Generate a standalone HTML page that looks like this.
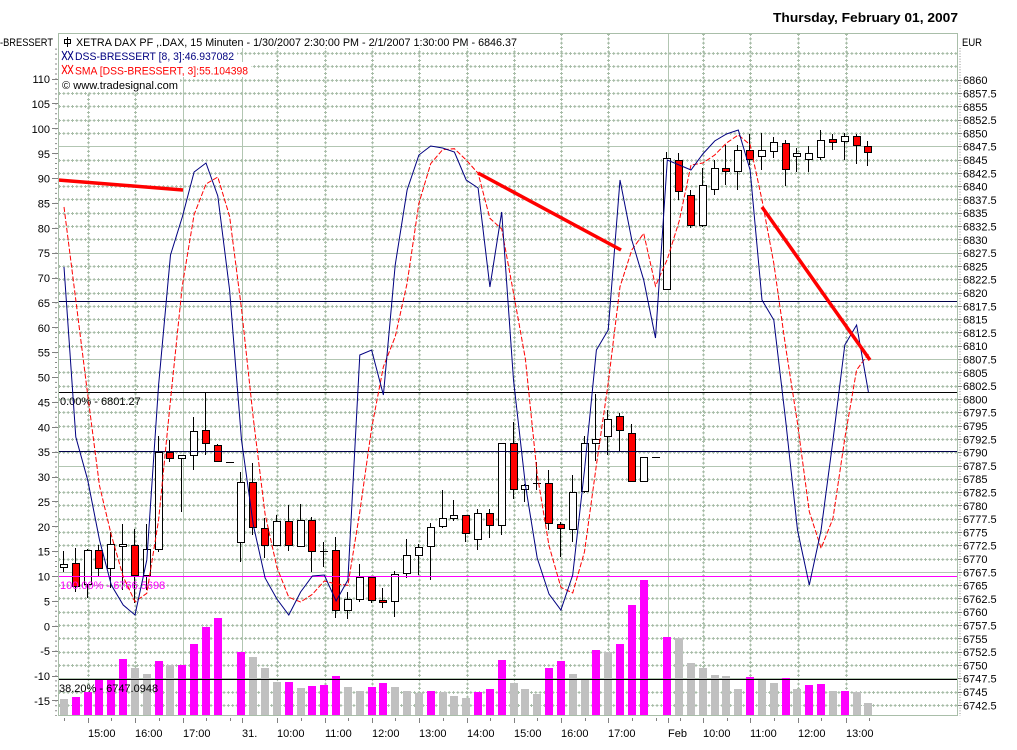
<!DOCTYPE html>
<html><head><meta charset="utf-8"><style>
html,body{margin:0;padding:0;background:#fff;}
svg{display:block;}
.h1{stroke:#a8bda8;stroke-width:1;stroke-dasharray:3 1.33;fill:none}
.h2{stroke:#a8bda8;stroke-width:3;stroke-dasharray:1 3.33;stroke-dashoffset:-1;fill:none}
.gs{stroke:#b2c6b2;stroke-width:1;fill:none}
.wk{stroke:#000;stroke-width:1;fill:none}
.rb{fill:#ff0000;stroke:#000;stroke-width:1}
.wb{fill:#fff;stroke:#000;stroke-width:1}
.vm{fill:#ff00ff}
.vg{fill:#c0c0c0}
text{font-family:"Liberation Sans",Arial,sans-serif;font-size:11px;fill:#000}
</style></head><body>
<svg width="1017" height="750" viewBox="0 0 1017 750" xmlns="http://www.w3.org/2000/svg">
<rect x="0" y="0" width="1017" height="750" fill="#fff"/>

<!-- horizontal dotted grid -->
<path class="h1" d="M58 53.5H958M58 66.5H958M58 80.5H958M58 93.5H958M58 106.5H958M58 120.5H958M58 133.5H958M58 160.5H958M58 173.5H958M58 186.5H958M58 199.5H958M58 213.5H958M58 226.5H958M58 239.5H958M58 266.5H958M58 279.5H958M58 293.5H958M58 306.5H958M58 319.5H958M58 332.5H958M58 346.5H958M58 372.5H958M58 386.5H958M58 399.5H958M58 412.5H958M58 426.5H958M58 439.5H958M58 452.5H958M58 479.5H958M58 492.5H958M58 505.5H958M58 519.5H958M58 532.5H958M58 545.5H958M58 559.5H958M58 585.5H958M58 598.5H958M58 612.5H958M58 625.5H958M58 638.5H958M58 652.5H958M58 665.5H958M58 692.5H958M58 705.5H958"/>
<path class="h2" d="M58 53.5H958M58 66.5H958M58 80.5H958M58 93.5H958M58 106.5H958M58 120.5H958M58 133.5H958M58 160.5H958M58 173.5H958M58 186.5H958M58 199.5H958M58 213.5H958M58 226.5H958M58 239.5H958M58 266.5H958M58 279.5H958M58 293.5H958M58 306.5H958M58 319.5H958M58 332.5H958M58 346.5H958M58 372.5H958M58 386.5H958M58 399.5H958M58 412.5H958M58 426.5H958M58 439.5H958M58 452.5H958M58 479.5H958M58 492.5H958M58 505.5H958M58 519.5H958M58 532.5H958M58 545.5H958M58 559.5H958M58 585.5H958M58 598.5H958M58 612.5H958M58 625.5H958M58 638.5H958M58 652.5H958M58 665.5H958M58 692.5H958M58 705.5H958"/>
<!-- vertical dotted grid -->
<path class="h1" d="M88.5 33V716M135.5 33V716M277.5 33V716M325.5 33V716M372.5 33V716M419.5 33V716M467.5 33V716M514.5 33V716M561.5 33V716M608.5 33V716M703.5 33V716M750.5 33V716M798.5 33V716M846.5 33V716"/>
<path class="h2" d="M88.5 33V716M135.5 33V716M277.5 33V716M325.5 33V716M372.5 33V716M419.5 33V716M467.5 33V716M514.5 33V716M561.5 33V716M608.5 33V716M703.5 33V716M750.5 33V716M798.5 33V716M846.5 33V716"/>
<!-- solid grid -->
<path class="gs" d="M58 146.5H958M58 253.5H958M58 359.5H958M58 466.5H958M58 572.5H958M58 678.5H958M183.5 33V716M242.5 33V716M668.5 33V716"/>

<!-- volume bars -->
<g>
<rect class="vg" x="60" y="699" width="8" height="17"/>
<rect class="vm" x="72" y="697" width="8" height="19"/>
<rect class="vm" x="84" y="692" width="8" height="24"/>
<rect class="vm" x="95" y="679" width="8" height="37"/>
<rect class="vm" x="107" y="679" width="8" height="37"/>
<rect class="vm" x="119" y="659" width="8" height="57"/>
<rect class="vg" x="131" y="668" width="8" height="48"/>
<rect class="vg" x="143" y="674" width="8" height="42"/>
<rect class="vm" x="155" y="661" width="8" height="55"/>
<rect class="vg" x="166" y="665" width="8" height="51"/>
<rect class="vm" x="178" y="665" width="8" height="51"/>
<rect class="vm" x="190" y="644" width="8" height="72"/>
<rect class="vm" x="202" y="627" width="8" height="89"/>
<rect class="vm" x="214" y="618" width="8" height="98"/>
<rect class="vm" x="237" y="652" width="8" height="64"/>
<rect class="vg" x="249" y="657" width="8" height="59"/>
<rect class="vg" x="261" y="668" width="8" height="48"/>
<rect class="vg" x="273" y="682" width="8" height="34"/>
<rect class="vm" x="285" y="682" width="8" height="34"/>
<rect class="vg" x="297" y="688" width="8" height="28"/>
<rect class="vm" x="308" y="686" width="8" height="30"/>
<rect class="vm" x="320" y="685" width="8" height="31"/>
<rect class="vm" x="332" y="676" width="8" height="40"/>
<rect class="vg" x="344" y="687" width="8" height="29"/>
<rect class="vg" x="356" y="691" width="8" height="25"/>
<rect class="vm" x="368" y="687" width="8" height="29"/>
<rect class="vm" x="379" y="683" width="8" height="33"/>
<rect class="vg" x="391" y="687" width="8" height="29"/>
<rect class="vg" x="403" y="691" width="8" height="25"/>
<rect class="vg" x="415" y="693" width="8" height="23"/>
<rect class="vm" x="427" y="691" width="8" height="25"/>
<rect class="vg" x="439" y="692" width="8" height="24"/>
<rect class="vg" x="450" y="696" width="8" height="20"/>
<rect class="vg" x="462" y="698" width="8" height="18"/>
<rect class="vm" x="474" y="692" width="8" height="24"/>
<rect class="vm" x="486" y="689" width="8" height="27"/>
<rect class="vm" x="498" y="660" width="8" height="56"/>
<rect class="vg" x="510" y="683" width="8" height="33"/>
<rect class="vg" x="521" y="689" width="8" height="27"/>
<rect class="vg" x="533" y="694" width="8" height="22"/>
<rect class="vm" x="545" y="668" width="8" height="48"/>
<rect class="vm" x="557" y="661" width="8" height="55"/>
<rect class="vg" x="569" y="674" width="8" height="42"/>
<rect class="vg" x="581" y="679" width="8" height="37"/>
<rect class="vm" x="592" y="650" width="8" height="66"/>
<rect class="vg" x="604" y="652" width="8" height="64"/>
<rect class="vm" x="616" y="644" width="8" height="72"/>
<rect class="vm" x="628" y="605" width="8" height="111"/>
<rect class="vm" x="640" y="580" width="8" height="136"/>
<rect class="vm" x="663" y="637" width="8" height="79"/>
<rect class="vg" x="675" y="638" width="8" height="78"/>
<rect class="vg" x="687" y="663" width="8" height="53"/>
<rect class="vg" x="699" y="668" width="8" height="48"/>
<rect class="vg" x="711" y="675" width="8" height="41"/>
<rect class="vg" x="722" y="676" width="8" height="40"/>
<rect class="vg" x="734" y="689" width="8" height="27"/>
<rect class="vm" x="746" y="677" width="8" height="39"/>
<rect class="vg" x="758" y="679" width="8" height="37"/>
<rect class="vg" x="770" y="683" width="8" height="33"/>
<rect class="vm" x="782" y="678" width="8" height="38"/>
<rect class="vg" x="793" y="689" width="8" height="27"/>
<rect class="vm" x="805" y="685" width="8" height="31"/>
<rect class="vm" x="817" y="684" width="8" height="32"/>
<rect class="vg" x="829" y="691" width="8" height="25"/>
<rect class="vm" x="841" y="691" width="8" height="25"/>
<rect class="vg" x="853" y="692" width="8" height="24"/>
<rect class="vg" x="864" y="703" width="8" height="13"/>
</g>

<!-- candle wicks -->
<path class="wk" d="M63.5 551V572M75.5 548V592M87.5 549V598M98.5 545V577M110.5 532V588M122.5 524V590M134.5 529V603M146.5 524V590M158.5 436V552M169.5 440V462M181.5 455V512M193.5 417V470M205.5 392V455M217.5 444V462M240.5 472V562M252.5 463V535M264.5 518V558M276.5 515V546M288.5 505V551M300.5 504V547M311.5 517V572M323.5 542V567M335.5 537V618M347.5 592V619M359.5 564V602M371.5 577V603M382.5 588V608M394.5 571V617M406.5 539V578M418.5 544V575M430.5 523V580M442.5 490V528M453.5 500V521M465.5 515V542M477.5 509V550M489.5 509V538M501.5 443V535M513.5 422V499M524.5 484V502M536.5 462V490M548.5 470V530M560.5 522V557M572.5 475V542M584.5 436V493M595.5 394V461M607.5 410V455M619.5 413V451M631.5 424V482M643.5 457V482M666.5 152V290M678.5 153V200M690.5 190V228M702.5 168V227M714.5 160V195M725.5 145V185M737.5 145V190M749.5 134V165M761.5 133V170M773.5 137V158M785.5 140V186M796.5 148V172M808.5 146V172M820.5 130V160M832.5 134V150M844.5 133V160M856.5 134V164M867.5 141V166M226 462.5H234M320 551.5H328M533 483.5H541M652 457.5H660"/>
<!-- red bodies -->
<g>
<rect class="rb" x="72.5" y="563.5" width="7" height="23"/>
<rect class="rb" x="95.5" y="550.5" width="7" height="18"/>
<rect class="rb" x="131.5" y="545.5" width="7" height="30"/>
<rect class="rb" x="166.5" y="452.5" width="7" height="6"/>
<rect class="rb" x="202.5" y="430.5" width="7" height="13"/>
<rect class="rb" x="214.5" y="445.5" width="7" height="16"/>
<rect class="rb" x="249.5" y="482.5" width="7" height="45"/>
<rect class="rb" x="261.5" y="528.5" width="7" height="17"/>
<rect class="rb" x="285.5" y="521.5" width="7" height="24"/>
<rect class="rb" x="308.5" y="520.5" width="7" height="31"/>
<rect class="rb" x="332.5" y="550.5" width="7" height="60"/>
<rect class="rb" x="368.5" y="577.5" width="7" height="23"/>
<rect class="rb" x="379.5" y="600.5" width="7" height="2"/>
<rect class="rb" x="462.5" y="515.5" width="7" height="18"/>
<rect class="rb" x="486.5" y="513.5" width="7" height="12"/>
<rect class="rb" x="510.5" y="443.5" width="7" height="46"/>
<rect class="rb" x="545.5" y="483.5" width="7" height="40"/>
<rect class="rb" x="557.5" y="524.5" width="7" height="4"/>
<rect class="rb" x="616.5" y="416.5" width="7" height="14"/>
<rect class="rb" x="628.5" y="433.5" width="7" height="48"/>
<rect class="rb" x="675.5" y="160.5" width="7" height="31"/>
<rect class="rb" x="687.5" y="195.5" width="7" height="30"/>
<rect class="rb" x="722.5" y="168.5" width="7" height="3"/>
<rect class="rb" x="746.5" y="150.5" width="7" height="9"/>
<rect class="rb" x="782.5" y="143.5" width="7" height="26"/>
<rect class="rb" x="829.5" y="139.5" width="7" height="3"/>
<rect class="rb" x="853.5" y="136.5" width="7" height="9"/>
<rect class="rb" x="864.5" y="146.5" width="7" height="6"/>
</g>
<!-- white bodies -->
<g>
<rect class="wb" x="60.5" y="564.5" width="7" height="3"/>
<rect class="wb" x="84.5" y="550.5" width="7" height="34"/>
<rect class="wb" x="107.5" y="544.5" width="7" height="24"/>
<rect class="wb" x="119.5" y="544.5" width="7" height="2"/>
<rect class="wb" x="143.5" y="549.5" width="7" height="26"/>
<rect class="wb" x="155.5" y="452.5" width="7" height="97"/>
<rect class="wb" x="178.5" y="455.5" width="7" height="3"/>
<rect class="wb" x="190.5" y="431.5" width="7" height="24"/>
<rect class="wb" x="237.5" y="482.5" width="7" height="60"/>
<rect class="wb" x="273.5" y="521.5" width="7" height="24"/>
<rect class="wb" x="297.5" y="520.5" width="7" height="26"/>
<rect class="wb" x="344.5" y="599.5" width="7" height="11"/>
<rect class="wb" x="356.5" y="577.5" width="7" height="22"/>
<rect class="wb" x="391.5" y="574.5" width="7" height="27"/>
<rect class="wb" x="403.5" y="555.5" width="7" height="18"/>
<rect class="wb" x="415.5" y="547.5" width="7" height="8"/>
<rect class="wb" x="427.5" y="527.5" width="7" height="19"/>
<rect class="wb" x="439.5" y="518.5" width="7" height="8"/>
<rect class="wb" x="450.5" y="515.5" width="7" height="3"/>
<rect class="wb" x="474.5" y="513.5" width="7" height="26"/>
<rect class="wb" x="498.5" y="443.5" width="7" height="82"/>
<rect class="wb" x="521.5" y="485.5" width="7" height="4"/>
<rect class="wb" x="569.5" y="492.5" width="7" height="37"/>
<rect class="wb" x="581.5" y="443.5" width="7" height="48"/>
<rect class="wb" x="592.5" y="439.5" width="7" height="4"/>
<rect class="wb" x="604.5" y="419.5" width="7" height="17"/>
<rect class="wb" x="640.5" y="457.5" width="7" height="24"/>
<rect class="wb" x="663.5" y="158.5" width="7" height="131"/>
<rect class="wb" x="699.5" y="185.5" width="7" height="40"/>
<rect class="wb" x="711.5" y="168.5" width="7" height="21"/>
<rect class="wb" x="734.5" y="150.5" width="7" height="21"/>
<rect class="wb" x="758.5" y="150.5" width="7" height="6"/>
<rect class="wb" x="770.5" y="142.5" width="7" height="9"/>
<rect class="wb" x="793.5" y="153.5" width="7" height="3"/>
<rect class="wb" x="805.5" y="153.5" width="7" height="6"/>
<rect class="wb" x="817.5" y="140.5" width="7" height="17"/>
<rect class="wb" x="841.5" y="136.5" width="7" height="5"/>
</g>

<!-- level lines -->
<path d="M58 301.5H958" stroke="#00004a" stroke-width="1"/>
<path d="M58 392.5H958" stroke="#000" stroke-width="1"/>
<path d="M58 451.5H958" stroke="#00004a" stroke-width="1"/>
<path d="M58 576.5H958" stroke="#ff00ff" stroke-width="1"/>
<path d="M58 679.5H958" stroke="#000" stroke-width="1"/>

<!-- level labels -->
<text x="60" y="405">0.00% - 6801.27</text>
<text x="60" y="589" style="fill:#ff00ff">100.00% - 6766.5698</text>
<text x="59" y="692">38.20% - 6747.0948</text>

<!-- SMA red dashed -->
<polyline fill="none" stroke="#ff0000" stroke-width="1" stroke-dasharray="5 2" points="64,207 75.8,300 87.7,394.7 99.5,485.7 111.3,535 123.2,576.7 135,601.7 146.8,593.3 158.6,520 170.5,400 182.3,285.7 194.1,214.7 206,184 217.8,177 229.6,216.3 241.5,308.7 253.3,418.3 265.1,514.3 276.9,567.3 288.8,597.3 300.6,602 312.4,594.3 324.3,581 336.1,584 347.9,585.3 359.8,512 371.6,428.3 383.4,366.7 395.2,336.7 407.1,283.3 418.9,203.3 430.7,163.7 442.6,149.7 454.4,148.7 466.2,160 478.1,173.3 489.9,218.3 501.7,229 513.5,293 525.4,359 537.2,474.3 549,545.7 560.9,587.3 572.7,593 584.5,551.7 596.4,465 608.2,383.3 620,286.7 631.8,250 643.7,233.3 655.5,286 667.3,259.3 679.2,221 691,165 702.8,163 714.7,155 726.5,143 738.3,135 750.1,144.7 762,200 773.8,263.3 785.6,346.7 797.5,423.3 809.3,511.7 821.1,548.3 833,518.3 844.8,438.3 856.6,370 868.4,354"/>
<!-- DSS blue -->
<polyline fill="none" stroke="#000080" stroke-width="1" points="64,267 75.8,437 87.7,480 99.5,540 111.3,585 123.2,605 135,615 146.8,560 158.6,385 170.5,255 182.3,217 194.1,172 206,163 217.8,196 229.6,290 241.5,440 253.3,525 265.1,578 276.9,599 288.8,615 300.6,592 312.4,576 324.3,575 336.1,601 347.9,580 359.8,355 371.6,350 383.4,395 395.2,265 407.1,190 418.9,155 430.7,146 442.6,148 454.4,152 466.2,180 478.1,188 489.9,287 501.7,212 513.5,380 525.4,485 537.2,558 549,594 560.9,610 572.7,575 584.5,470 596.4,350 608.2,330 620,180 631.8,240 643.7,280 655.5,338 667.3,160 679.2,165 691,170 702.8,154 714.7,141 726.5,134 738.3,130 750.1,170 762,300 773.8,320 785.6,420 797.5,530 809.3,585 821.1,530 833,440 844.8,345 856.6,325 868.4,392"/>

<!-- trendlines -->
<line x1="58" y1="180" x2="183" y2="190" stroke="#ff0000" stroke-width="3.5"/>
<line x1="478" y1="173" x2="621" y2="250" stroke="#ff0000" stroke-width="3.5"/>
<line x1="762" y1="207" x2="870" y2="360" stroke="#ff0000" stroke-width="3.5"/>

<!-- legend backgrounds -->
<rect x="59" y="34" width="461" height="14" fill="#fff"/>
<rect x="59" y="48" width="178" height="14" fill="#fff"/>
<rect x="59" y="62" width="192" height="15" fill="#fff"/>
<rect x="59" y="77" width="121" height="15" fill="#fff"/>

<!-- frame -->
<rect x="58.5" y="33.5" width="899" height="682" fill="none" stroke="#a9bea9" stroke-width="1"/>

<!-- legend -->
<rect x="64.5" y="39.5" width="6" height="4" fill="none" stroke="#000"/>
<path d="M67.5 37V47" stroke="#000"/>
<text x="76" y="46" textLength="441" lengthAdjust="spacingAndGlyphs">XETRA DAX PF ,.DAX, 15 Minuten - 1/30/2007 2:30:00 PM - 2/1/2007 1:30:00 PM - 6846.37</text>
<path d="M62 51L67 60M67 51L62 60M68 51L73 60M73 51L68 60" stroke="#000080" fill="none"/>
<text x="75" y="60" textLength="159" lengthAdjust="spacingAndGlyphs" style="fill:#000080">DSS-BRESSERT [8, 3]:46.937082</text>
<path d="M62 65L67 74M67 65L62 74M68 65L73 74M73 65L68 74" stroke="#ff0000" fill="none"/>
<text x="75" y="74.5" textLength="173" lengthAdjust="spacingAndGlyphs" style="fill:#ff0000">SMA [DSS-BRESSERT, 3]:55.104398</text>
<text x="62" y="89" textLength="116" lengthAdjust="spacingAndGlyphs">© www.tradesignal.com</text>

<!-- header -->
<text x="773" y="22" textLength="185" lengthAdjust="spacingAndGlyphs" style="font-weight:bold;font-size:13px">Thursday, February 01, 2007</text>
<text x="0" y="46" textLength="53" lengthAdjust="spacingAndGlyphs">-BRESSERT</text>
<text x="962" y="46" textLength="20" lengthAdjust="spacingAndGlyphs">EUR</text>

<!-- left axis ticks -->
<path d="M56 48.6V716" stroke="#8a8a8a" stroke-width="2" stroke-dasharray="1 3.975" fill="none"/>
<path stroke="#808080" stroke-width="1" d="M52 79.5H58M52 103.5H58M52 128.5H58M52 153.5H58M52 178.5H58M52 203.5H58M52 228.5H58M52 253.5H58M52 278.5H58M52 302.5H58M52 327.5H58M52 352.5H58M52 377.5H58M52 402.5H58M52 427.5H58M52 452.5H58M52 477.5H58M52 501.5H58M52 526.5H58M52 551.5H58M52 576.5H58M52 601.5H58M52 626.5H58M52 651.5H58M52 676.5H58M52 700.5H58"/>
<g text-anchor="end">
<text x="50" y="83">110</text>
<text x="50" y="108">105</text>
<text x="50" y="133">100</text>
<text x="50" y="158">95</text>
<text x="50" y="182.5">90</text>
<text x="50" y="207.5">85</text>
<text x="50" y="232.5">80</text>
<text x="50" y="257">75</text>
<text x="50" y="282">70</text>
<text x="50" y="307">65</text>
<text x="50" y="332">60</text>
<text x="50" y="356.5">55</text>
<text x="50" y="381.5">50</text>
<text x="50" y="406.5">45</text>
<text x="50" y="431.5">40</text>
<text x="50" y="456">35</text>
<text x="50" y="481">30</text>
<text x="50" y="506">25</text>
<text x="50" y="531">20</text>
<text x="50" y="555.5">15</text>
<text x="50" y="580.5">10</text>
<text x="50" y="605.5">5</text>
<text x="50" y="630.5">0</text>
<text x="50" y="655">-5</text>
<text x="50" y="680">-10</text>
<text x="50" y="705">-15</text>
</g>

<!-- right axis -->
<path d="M960 48V716" stroke="#909090" stroke-width="1" stroke-dasharray="1 1.66" fill="none"/>
<path stroke="#808080" stroke-width="1" d="M958 80.5H962M958 93.5H962M958 106.5H962M958 120.5H962M958 133.5H962M958 146.5H962M958 160.5H962M958 173.5H962M958 186.5H962M958 199.5H962M958 213.5H962M958 226.5H962M958 239.5H962M958 253.5H962M958 266.5H962M958 279.5H962M958 293.5H962M958 306.5H962M958 319.5H962M958 332.5H962M958 346.5H962M958 359.5H962M958 372.5H962M958 386.5H962M958 399.5H962M958 412.5H962M958 426.5H962M958 439.5H962M958 452.5H962M958 466.5H962M958 479.5H962M958 492.5H962M958 505.5H962M958 519.5H962M958 532.5H962M958 545.5H962M958 559.5H962M958 572.5H962M958 585.5H962M958 598.5H962M958 612.5H962M958 625.5H962M958 638.5H962M958 652.5H962M958 665.5H962M958 678.5H962M958 692.5H962M958 705.5H962"/>
<g>
<text x="963" y="84.2">6860</text>
<text x="963" y="97.5">6857.5</text>
<text x="963" y="110.8">6855</text>
<text x="963" y="124.1">6852.5</text>
<text x="963" y="137.4">6850</text>
<text x="963" y="150.7">6847.5</text>
<text x="963" y="164">6845</text>
<text x="963" y="177.3">6842.5</text>
<text x="963" y="190.6">6840</text>
<text x="963" y="203.9">6837.5</text>
<text x="963" y="217.2">6835</text>
<text x="963" y="230.5">6832.5</text>
<text x="963" y="243.8">6830</text>
<text x="963" y="257.1">6827.5</text>
<text x="963" y="270.4">6825</text>
<text x="963" y="283.7">6822.5</text>
<text x="963" y="297">6820</text>
<text x="963" y="310.3">6817.5</text>
<text x="963" y="323.6">6815</text>
<text x="963" y="336.9">6812.5</text>
<text x="963" y="350.2">6810</text>
<text x="963" y="363.5">6807.5</text>
<text x="963" y="376.8">6805</text>
<text x="963" y="390.1">6802.5</text>
<text x="963" y="403.4">6800</text>
<text x="963" y="416.7">6797.5</text>
<text x="963" y="430">6795</text>
<text x="963" y="443.3">6792.5</text>
<text x="963" y="456.6">6790</text>
<text x="963" y="469.9">6787.5</text>
<text x="963" y="483.2">6785</text>
<text x="963" y="496.5">6782.5</text>
<text x="963" y="509.8">6780</text>
<text x="963" y="523.1">6777.5</text>
<text x="963" y="536.4">6775</text>
<text x="963" y="549.7">6772.5</text>
<text x="963" y="563">6770</text>
<text x="963" y="576.3">6767.5</text>
<text x="963" y="589.6">6765</text>
<text x="963" y="602.9">6762.5</text>
<text x="963" y="616.2">6760</text>
<text x="963" y="629.5">6757.5</text>
<text x="963" y="642.8">6755</text>
<text x="963" y="656.1">6752.5</text>
<text x="963" y="669.4">6750</text>
<text x="963" y="682.7">6747.5</text>
<text x="963" y="696">6745</text>
<text x="963" y="709.3">6742.5</text>
</g>

<!-- bottom axis ticks -->
<path stroke="#808080" stroke-width="1" d="M88.5 718V723M135.5 718V723M183.5 718V723M242.5 718V723M277.5 718V723M325.5 718V723M372.5 718V723M419.5 718V723M467.5 718V723M514.5 718V723M561.5 718V723M608.5 718V723M668.5 718V723M703.5 718V723M750.5 718V723M798.5 718V723M846.5 718V723M64.5 718V721M111.5 718V721M159.5 718V721M206.5 718V721M230.5 718V721M301.5 718V721M348.5 718V721M395.5 718V721M443.5 718V721M490.5 718V721M537.5 718V721M585.5 718V721M632.5 718V721M656.5 718V721M680.5 718V721M727.5 718V721M774.5 718V721M821.5 718V721M869.5 718V721"/>
<g>
<text x="88" y="737">15:00</text>
<text x="135" y="737">16:00</text>
<text x="183" y="737">17:00</text>
<text x="242" y="737">31.</text>
<text x="277" y="737">10:00</text>
<text x="325" y="737">11:00</text>
<text x="372" y="737">12:00</text>
<text x="419" y="737">13:00</text>
<text x="467" y="737">14:00</text>
<text x="514" y="737">15:00</text>
<text x="561" y="737">16:00</text>
<text x="608" y="737">17:00</text>
<text x="668" y="737">Feb</text>
<text x="703" y="737">10:00</text>
<text x="750" y="737">11:00</text>
<text x="798" y="737">12:00</text>
<text x="846" y="737">13:00</text>
</g>
</svg>
</body></html>
